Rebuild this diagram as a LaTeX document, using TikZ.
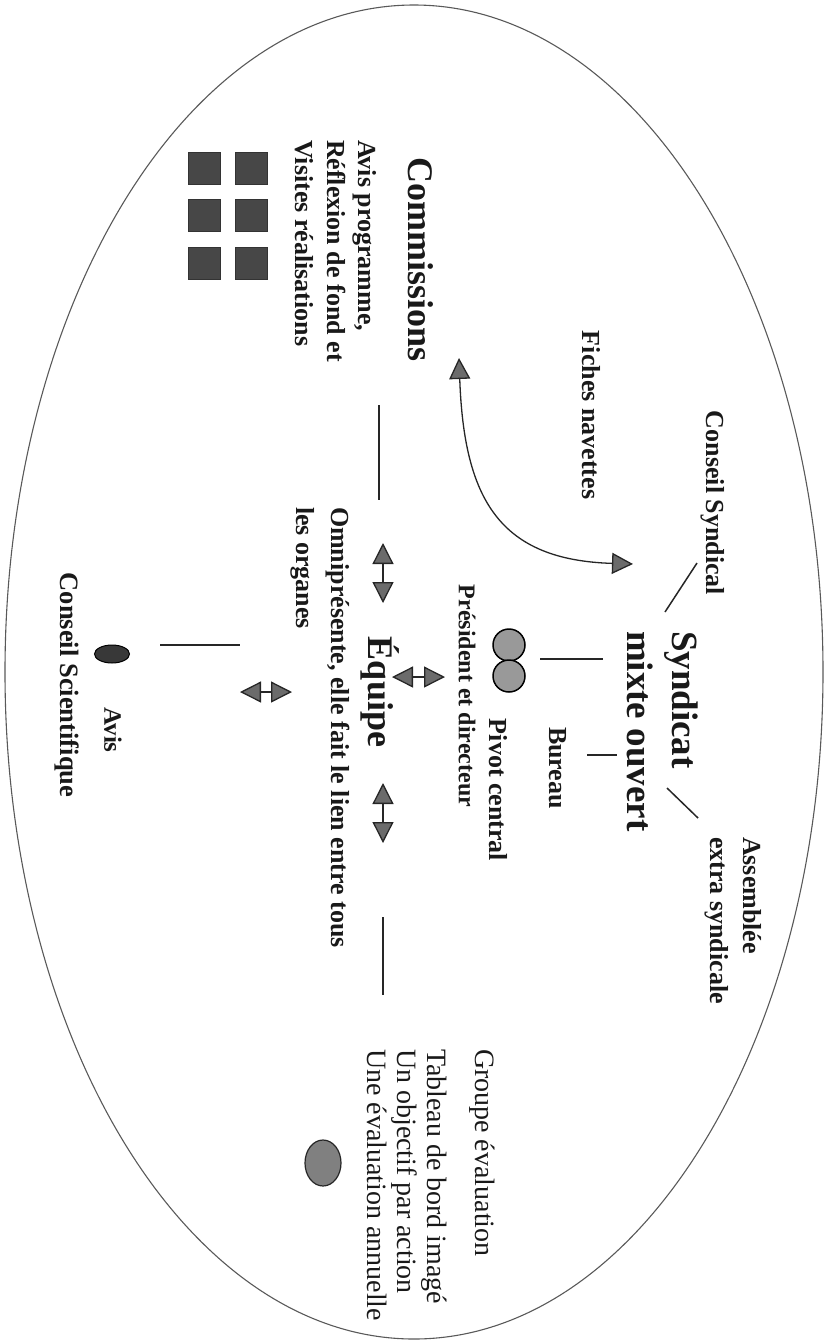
\documentclass[tikz,border=0pt]{standalone}
\usepackage{fontspec}
\setmainfont{Liberation Serif}
\usetikzlibrary{arrows.meta,shapes.geometric}
\newcommand{\fsz}[2]{\fontsize{#1}{#2}\selectfont}
\begin{document}
\begin{tikzpicture}[x=1pt,y=-1pt,
  lbl/.style={rotate=-90,inner sep=0pt,outer sep=0pt,text=black!90},
  btxt/.style={lbl,font=\fsz{26}{31.5}\bfseries},
  conn/.style={line width=1.5pt,draw=black!85},
  dbl/.style={line width=1.3pt,draw=black!85,
    arrows={Triangle[length=21pt,width=21pt,fill=black!58]-Triangle[length=21pt,width=21pt,fill=black!58]}},
  sq/.style={rectangle,minimum size=32pt,inner sep=0pt,fill=black!72,draw=black!80},
  ball/.style={circle,minimum size=32pt,inner sep=0pt,fill=black!40,draw=black,line width=1.5pt},
]
\useasboundingbox (0,0) rectangle (825,1342);
% outer ellipse
\node[ellipse,draw=black!65,line width=1.1pt,minimum width=818pt,minimum height=1334pt,inner sep=0pt] (frame) at (414,672) {};

% texts
\node[lbl,font=\fsz{36}{43}\bfseries] (comm) at (421,260) {Commissions};
\node[btxt,align=left,anchor=north west] (avisprog) at (377,140) {Avis programme,\\Réflexion de fond et\\Visites réalisations};
\node[btxt] (fiches) at (591,415) {Fiches navettes};
\node[btxt] (csyn) at (713,503) {Conseil Syndical};
\node[lbl,font=\fsz{37}{45}\bfseries,align=left,anchor=north west] (smo) at (698,631) {Syndicat\\mixte ouvert};
\node[lbl,font=\fsz{26}{33}\bfseries,align=left,anchor=north west] (aes) at (762,837) {Assemblée\\extra syndicale};
\node[btxt] (bureau) at (558,768) {Bureau};
\node[btxt] (pivot) at (498,790) {Pivot central};
\node[lbl,font=\fsz{24}{29}\bfseries] (presdir) at (467,696) {Président et directeur};
\node[lbl,font=\fsz{36}{43}\bfseries] (equipe) at (380,692) {Équipe};
\node[lbl,font=\fsz{26}{35}\bfseries,align=left,anchor=north west] (omni) at (350,507) {Omniprésente, elle fait le lien entre tous\\les organes};
\node[lbl,font=\fsz{28}{30},align=left,anchor=north west] (groupe) at (495,1049) {Groupe évaluation\\[18pt]Tableau de bord imagé\\Un objectif par action\\Une évaluation annuelle};
\node[lbl,font=\fsz{25}{30}\bfseries] (avis) at (113,730) {Avis};
\node[lbl,font=\fsz{26.5}{31}\bfseries] (consci) at (67,685) {Conseil Scientifique};

% symbols
\node[ball] (b1) at (509,645) {};
\node[ball] (b2) at (509,676) {};
\node[ellipse,minimum width=36pt,minimum height=46pt,inner sep=0pt,fill=black!50,draw=black!85,line width=1.2pt] (gell) at (323,1163) {};
\node[ellipse,minimum width=35pt,minimum height=18pt,inner sep=0pt,fill=black!78,draw=black,line width=1pt] (csell) at (112,654) {};
\node[sq] (s1) at (251,168) {};
\node[sq] (s2) at (251,215) {};
\node[sq] (s3) at (251,263) {};
\node[sq] (s4) at (204,168) {};
\node[sq] (s5) at (204,215) {};
\node[sq] (s6) at (204,263) {};

% connector end points
\coordinate (l1a) at (697,563); \coordinate (l1b) at (665,612);
\coordinate (l2a) at (667,788); \coordinate (l2b) at (698,818);
\coordinate (l3a) at (587,755); \coordinate (l3b) at (617,755);
\coordinate (l4a) at (540,659); \coordinate (l4b) at (603,659);
\coordinate (l5a) at (379,405); \coordinate (l5b) at (379,500);
\coordinate (l6a) at (383,917); \coordinate (l6b) at (383,995);
\coordinate (l7a) at (160,645); \coordinate (l7b) at (240,645);
\coordinate (a1a) at (383,543); \coordinate (a1b) at (383,603);
\coordinate (a2a) at (392,677); \coordinate (a2b) at (445,677);
\coordinate (a3a) at (383,783); \coordinate (a3b) at (383,843);
\coordinate (a4a) at (240,692); \coordinate (a4b) at (292,692);
\coordinate (fa) at (459,358); \coordinate (fb) at (633,564);

% plain connectors
\draw[conn] (l1a) -- (l1b);
\draw[conn] (l2a) -- (l2b);
\draw[conn] (l3a) -- (l3b);
\draw[conn] (l4a) -- (l4b);
\draw[conn] (l5a) -- (l5b);
\draw[conn] (l6a) -- (l6b);
\draw[conn] (l7a) -- (l7b);

% double arrows
\draw[dbl] (a1a) -- (a1b);
\draw[dbl] (a2a) -- (a2b);
\draw[dbl] (a3a) -- (a3b);
\draw[dbl] (a4a) -- (a4b);
\draw[dbl] (fa) .. controls (464,500) and (500,560) .. (fb);
\end{tikzpicture}
\end{document}
